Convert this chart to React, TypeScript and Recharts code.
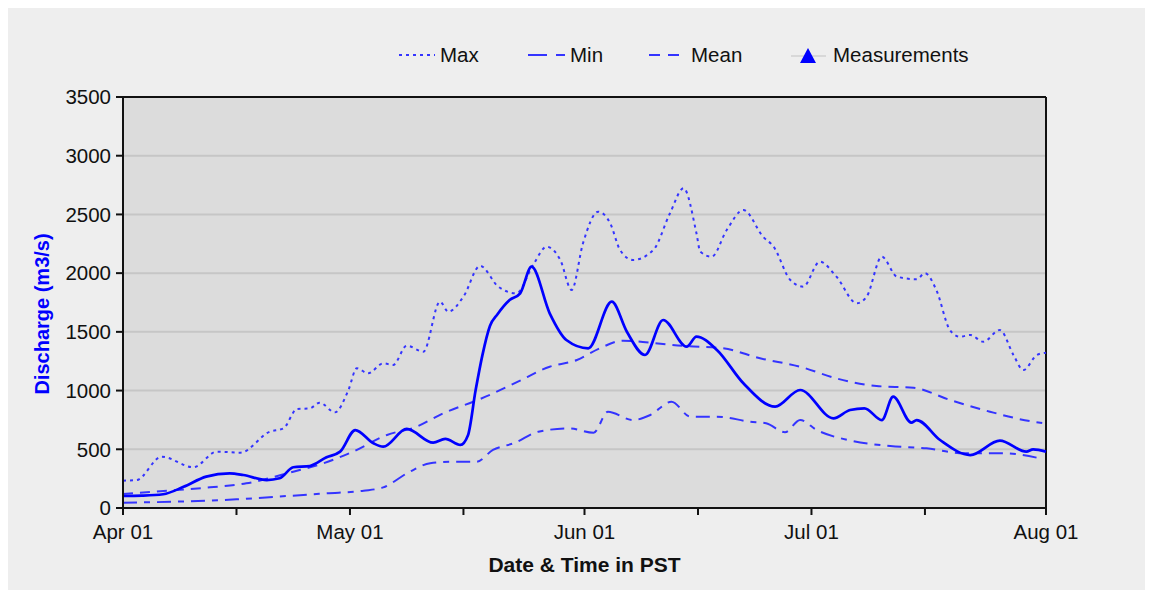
import { LineChart, Line, XAxis, YAxis, CartesianGrid, ReferenceLine, Label } from 'recharts'

// x positions are days since Apr 01
const xTicks = [0, 15, 30, 45, 61, 76, 91, 106, 122]
const xTickLabels: Record<number, string> = { 0: 'Apr 01', 30: 'May 01', 61: 'Jun 01', 91: 'Jul 01', 122: 'Aug 01' }
const yTicks = [0, 500, 1000, 1500, 2000, 2500, 3000, 3500]

const dischargeDays = [0, 2.5, 5.3, 8, 11, 14.1, 15.9, 19, 20.7, 22.5, 24.7, 26.9, 28.7, 30.7, 33.1, 34.4, 37.5, 41, 42.6, 44.6, 45.6, 46.6, 47.5, 48.5, 49.5, 51.1, 52.5, 54, 56.4, 58.6, 61.5, 64.6, 66.6, 69, 71.4, 74.5, 75.8, 78.5, 82, 86.2, 89.5, 93.9, 96.1, 98, 100.3, 101.8, 104.2, 104.9, 108, 112, 115.9, 119.4, 120.3, 122]
const dischargeValues = [102, 105, 117, 180, 267, 295, 281, 238, 253, 347, 358, 432, 480, 664, 551, 522, 673, 556, 588, 537, 620, 1000, 1300, 1550, 1650, 1771, 1828, 2055, 1658, 1431, 1360, 1757, 1501, 1303, 1601, 1374, 1459, 1346, 1062, 863, 1005, 764, 835, 849, 749, 948, 727, 749, 579, 451, 573, 480, 500, 480]

const maxDays = [0, 1.8, 5.1, 9.3, 12.4, 15.5, 19.4, 21.2, 23, 24.7, 26, 28, 29.8, 30.9, 32.4, 34.4, 35.7, 37.5, 39.7, 41.9, 43, 45, 47.2, 49.6, 52, 54.2, 56, 57.8, 59.3, 60.8, 62.8, 64.4, 65.7, 67.4, 70.1, 72.3, 74.1, 75.8, 76.3, 77.8, 79.8, 82, 84.6, 86, 88.2, 89.9, 92.1, 94.3, 97, 98.3, 100.3, 102.3, 104.9, 106, 107.5, 109.3, 110.6, 112, 113.7, 115.9, 117.7, 119, 120.8, 122]
const maxValues = [233, 238, 437, 347, 480, 471, 650, 678, 843, 849, 897, 815, 1005, 1190, 1147, 1232, 1218, 1382, 1331, 1757, 1672, 1800, 2062, 1885, 1828, 2069, 2225, 2112, 1857, 2254, 2523, 2424, 2197, 2112, 2197, 2510, 2723, 2339, 2183, 2140, 2367, 2538, 2310, 2225, 1942, 1885, 2098, 1970, 1743, 1800, 2140, 1970, 1948, 1999, 1857, 1516, 1459, 1473, 1416, 1516, 1303, 1175, 1303, 1323]

const minDays = [0, 7, 15, 20.3, 26.9, 31.8, 34.4, 37.9, 40.6, 43.7, 46.7, 48.9, 51.8, 54.9, 59, 62.2, 64.1, 67.4, 69.7, 72.5, 75, 78.5, 82.9, 85, 87.5, 89.5, 91.7, 96.1, 101.4, 106.2, 111.1, 116.3, 121.2]
const minValues = [45, 54, 74, 96, 125, 147, 176, 309, 381, 394, 394, 494, 555, 650, 678, 641, 820, 749, 792, 905, 778, 778, 735, 721, 645, 749, 664, 575, 528, 508, 466, 466, 423]

const meanDays = [0, 7.1, 11.5, 16.3, 22.5, 26.5, 30.4, 34.9, 38.8, 42.3, 46.3, 48, 52, 56.4, 60, 63, 66.1, 69.7, 74.1, 79.3, 84.2, 89.5, 94.5, 99.6, 104.5, 109.3, 114.6, 120.3, 121.5]
const meanValues = [119, 153, 176, 210, 309, 381, 480, 622, 692, 806, 905, 950, 1070, 1203, 1260, 1360, 1425, 1408, 1380, 1360, 1275, 1203, 1100, 1039, 1024, 920, 820, 735, 724]

const toRows = (days: number[], values: number[]) => days.map((day, i) => ({ day, value: values[i] }))

const FONT = '"Liberation Sans", Arial, sans-serif'
const BLUE = '#0000ff'
const LIGHT_BLUE = '#3434ff'

function LegendItem({ swatchLeft, textLeft, swatch, text }: { swatchLeft: number; textLeft: number; swatch: JSX.Element; text: string }) {
  return (
    <>
      <div style={{ position: 'absolute', left: swatchLeft, top: 38, height: 18, display: 'flex', alignItems: 'center' }}>{swatch}</div>
      <div style={{ position: 'absolute', left: textLeft, top: 35, fontSize: 20.5, lineHeight: '24px', color: '#111' }}>{text}</div>
    </>
  )
}

export default function App() {
  return (
    <div style={{ position: 'relative', width: 1142, height: 582, background: '#eeeeee', fontFamily: FONT }}>
      <LegendItem
        swatchLeft={390}
        textLeft={432}
        text="Max"
        swatch={<svg width={37} height={6}><line x1={1} y1={3} x2={37} y2={3} stroke={LIGHT_BLUE} strokeWidth={2} strokeDasharray="3 4" /></svg>}
      />
      <LegendItem
        swatchLeft={520}
        textLeft={562}
        text="Min"
        swatch={<svg width={37} height={6}><line x1={0} y1={3} x2={37} y2={3} stroke={LIGHT_BLUE} strokeWidth={2} strokeDasharray="19 9 9 9" /></svg>}
      />
      <LegendItem
        swatchLeft={641}
        textLeft={683}
        text="Mean"
        swatch={<svg width={31} height={6}><line x1={0} y1={3} x2={31} y2={3} stroke={LIGHT_BLUE} strokeWidth={2} strokeDasharray="11 8" /></svg>}
      />
      <LegendItem
        swatchLeft={783}
        textLeft={825}
        text="Measurements"
        swatch={
          <svg width={35} height={18}>
            <line x1={0} y1={10} x2={35} y2={10} stroke="#d8d8d8" strokeWidth={2} />
            <polygon points="17,2 25,17 9,17" fill={BLUE} />
          </svg>
        }
      />
      <LineChart
        width={1142}
        height={582}
        margin={{ top: 89, right: 104, bottom: 42, left: 0 }}
        style={{ fontFamily: FONT }}
      >
        <CartesianGrid horizontal vertical={false} fill="#dcdcdc" stroke="#c6c6c6" strokeWidth={2} />
        <XAxis
          dataKey="day"
          type="number"
          domain={[0, 122]}
          ticks={xTicks}
          tickFormatter={(d: number) => xTickLabels[d] ?? ''}
          height={40}
          tickSize={7}
          tickMargin={9}
          allowDuplicatedCategory={false}
          axisLine={{ stroke: '#111', strokeWidth: 2 }}
          tickLine={{ stroke: '#111', strokeWidth: 2 }}
          tick={{ fill: '#111', fontSize: 20.5 }}
        >
          <Label
            content={({ viewBox }: any) => (
              <text x={viewBox.x + viewBox.width / 2} y={564} textAnchor="middle" fontSize={21} fontWeight="bold" fill="#111">
                Date &amp; Time in PST
              </text>
            )}
          />
        </XAxis>
        <YAxis
          type="number"
          domain={[0, 3500]}
          ticks={yTicks}
          width={115}
          tickSize={7}
          tickMargin={5}
          axisLine={{ stroke: '#111', strokeWidth: 2 }}
          tickLine={{ stroke: '#111', strokeWidth: 2 }}
          tick={{ fill: '#111', fontSize: 20.5 }}
        >
          <Label
            content={() => (
              <text x={41} y={306} transform="rotate(-90 41 306)" textAnchor="middle" fontSize={20} fontWeight="bold" fill={BLUE}>
                Discharge (m3/s)
              </text>
            )}
          />
        </YAxis>
        <ReferenceLine y={3500} stroke="#111" strokeWidth={2} />
        <ReferenceLine x={122} stroke="#111" strokeWidth={2} />
        <Line data={toRows(maxDays, maxValues)} dataKey="value" type="monotone" stroke={LIGHT_BLUE} strokeWidth={2} strokeDasharray="3 4" dot={false} activeDot={false} isAnimationActive={false} />
        <Line data={toRows(meanDays, meanValues)} dataKey="value" type="monotone" stroke={LIGHT_BLUE} strokeWidth={2} strokeDasharray="10 7" dot={false} activeDot={false} isAnimationActive={false} />
        <Line data={toRows(minDays, minValues)} dataKey="value" type="monotone" stroke={LIGHT_BLUE} strokeWidth={2} strokeDasharray="14 7 6 7" dot={false} activeDot={false} isAnimationActive={false} />
        <Line data={toRows(dischargeDays, dischargeValues)} dataKey="value" type="monotone" stroke={BLUE} strokeWidth={2.7} dot={false} activeDot={false} isAnimationActive={false} />
      </LineChart>
    </div>
  )
}
